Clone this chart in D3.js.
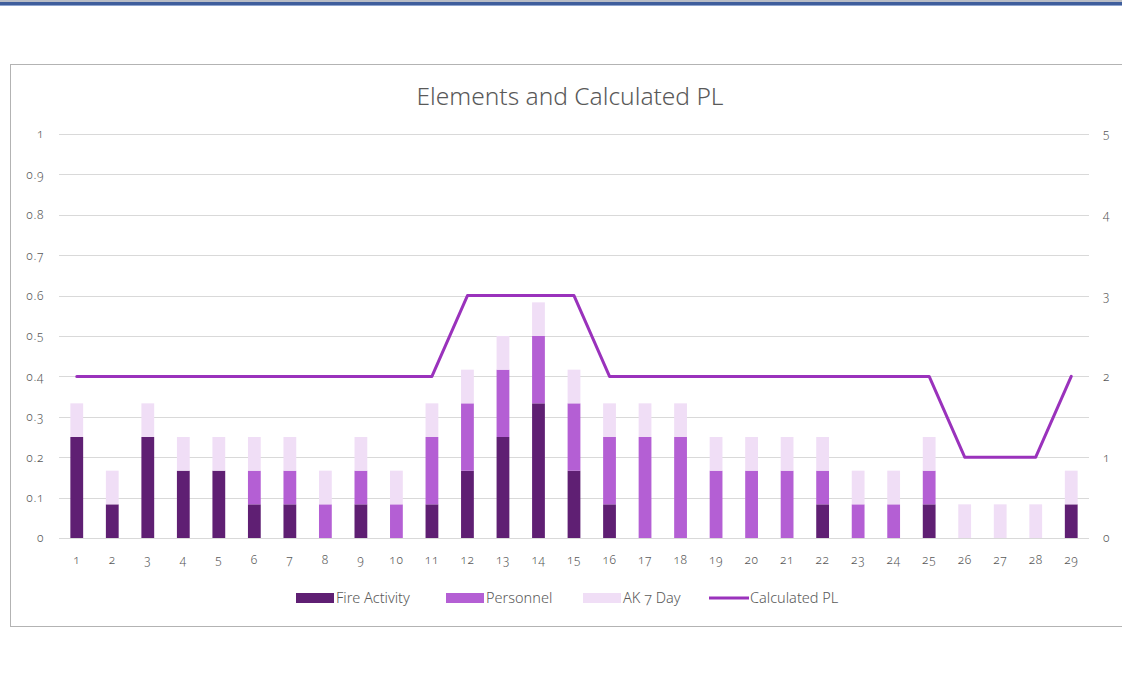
<!DOCTYPE html>
<html><head><meta charset="utf-8">
<script src="https://cdn.jsdelivr.net/npm/d3@7"></script>
<style>
html,body{margin:0;padding:0;background:#fff;}
svg text{font-family:"Noto Sans","Open Sans",sans-serif;font-variant-numeric:oldstyle-nums;font-feature-settings:"onum" 1;}
</style></head><body>
<svg id="c" width="1122" height="694"></svg>
<script>
const days = d3.range(1, 30).map(String);
const u = 1/12;
const fireActivity = [3,1,3,2,2,1,1,0,1,0,1,2,3,4,2,1,0,0,0,0,0,1,0,0,1,0,0,0,1].map(v=>v*u);
const personnel    = [0,0,0,0,0,1,1,1,1,1,2,2,2,2,2,2,3,3,2,2,2,1,1,1,1,0,0,0,0].map(v=>v*u);
const ak7Day       = [1,1,1,1,1,1,1,1,1,1,1,1,1,1,1,1,1,1,1,1,1,1,1,1,1,1,1,1,1].map(v=>v*u);
const calculatedPL = [2,2,2,2,2,2,2,2,2,2,2,3,3,3,3,2,2,2,2,2,2,2,2,2,2,1,1,1,2];
const leftTicks = [0,0.1,0.2,0.3,0.4,0.5,0.6,0.7,0.8,0.9,1];
const rightTicks = [0,1,2,3,4,5];
const seriesNames = ["Fire Activity","Personnel","AK 7 Day","Calculated PL"];
const colors = {"Fire Activity":"#5f1f73","Personnel":"#b45fd4","AK 7 Day":"#f0def6","Calculated PL":"#9a32bc"};

const svg = d3.select("#c");
// top band
svg.append("rect").attr("x",0).attr("y",0).attr("width",1122).attr("height",2).attr("fill","#b9bdc6");
svg.append("rect").attr("x",0).attr("y",2).attr("width",1122).attr("height",3).attr("fill","#3f5e9c");
svg.append("rect").attr("x",0).attr("y",5).attr("width",1122).attr("height",1).attr("fill","#8fa5cf");
// chart frame
svg.append("rect").attr("x",10.5).attr("y",64.5).attr("width",1130).attr("height",562).attr("fill","#fff").attr("stroke","#b3b3b3").attr("stroke-width",1);

const pL = 59, pR = 1089, pT = 134, pB = 538;
const x = d3.scaleBand().domain(days).range([pL,pR]).paddingInner(0.64).paddingOuter(0.32);
const y = d3.scaleLinear().domain([0,1]).range([pB,pT]);
const y2 = d3.scaleLinear().domain([0,5]).range([pB,pT]);

// gridlines
svg.append("g").selectAll("line").data(leftTicks).join("line")
  .attr("x1",pL).attr("x2",pR).attr("y1",d=>Math.round(y(d))+0.5).attr("y2",d=>Math.round(y(d))+0.5)
  .attr("stroke","#d9d9d9").attr("stroke-width",1);

const tickStyle = sel => sel.attr("fill","#595959").attr("font-size",12).attr("font-weight",300).attr("letter-spacing","0.6px");

// left axis
const ax = d3.axisLeft(y).tickValues(leftTicks).tickSize(0).tickPadding(0).tickFormat(d=>d3.format("")(d));
const gl = svg.append("g").attr("transform",`translate(44,0)`).call(ax);
gl.select(".domain").remove();
gl.selectAll("text").call(tickStyle).attr("dy","0.32em");

const ax2 = d3.axisRight(y2).tickValues(rightTicks).tickSize(0).tickPadding(0).tickFormat(d3.format("d"));
const gr = svg.append("g").attr("transform",`translate(1103,0)`).call(ax2);
gr.select(".domain").remove();
gr.selectAll("text").call(tickStyle).attr("dy","0.32em");

const axb = d3.axisBottom(x).tickSize(0).tickPadding(0);
const gb = svg.append("g").attr("transform",`translate(0,555)`).call(axb);
gb.select(".domain").remove();
gb.selectAll("text").call(tickStyle).attr("dy","0.71em");

// stacked bars
const rows = days.map((d,i)=>({day:d,"Fire Activity":fireActivity[i],"Personnel":personnel[i],"AK 7 Day":ak7Day[i]}));
const stack = d3.stack().keys(["Fire Activity","Personnel","AK 7 Day"])(rows);
svg.append("g").selectAll("g").data(stack).join("g").attr("fill",s=>colors[s.key])
  .selectAll("rect").data(s=>s.filter(p=>p[1]-p[0]>1e-9)).join("rect")
  .attr("x",p=>x(p.data.day)).attr("width",x.bandwidth())
  .attr("y",p=>y(p[1])).attr("height",p=>y(p[0])-y(p[1]));

// line
const line = d3.line().x((d,i)=>x(days[i])+x.bandwidth()/2).y(d=>y2(d));
svg.append("path").datum(calculatedPL).attr("d",line).attr("fill","none")
  .attr("stroke",colors["Calculated PL"]).attr("stroke-width",3).attr("stroke-linejoin","round").attr("stroke-linecap","round");

// title
svg.append("text").attr("x",570).attr("y",105).attr("text-anchor","middle")
  .attr("font-size",24.5).attr("font-weight",300).attr("fill","#595959").text("Elements and Calculated PL");

// legend
const legendX = [296,446,583,709];
const lg = svg.append("g");
seriesNames.forEach((n,i)=>{
  const g = lg.append("g").attr("transform",`translate(${legendX[i]},598)`);
  if(n==="Calculated PL"){
    g.append("line").attr("x1",0).attr("x2",40).attr("y1",0).attr("y2",0).attr("stroke",colors[n]).attr("stroke-width",3);
  } else {
    g.append("rect").attr("x",0).attr("y",-5).attr("width",38).attr("height",10).attr("fill",colors[n]);
  }
  g.append("text").attr("x",n==="Calculated PL"?41:40).attr("y",0).attr("dy","0.35em").attr("font-size",14.5).attr("font-weight",300).attr("fill","#595959").text(n);
});
</script></body></html>
